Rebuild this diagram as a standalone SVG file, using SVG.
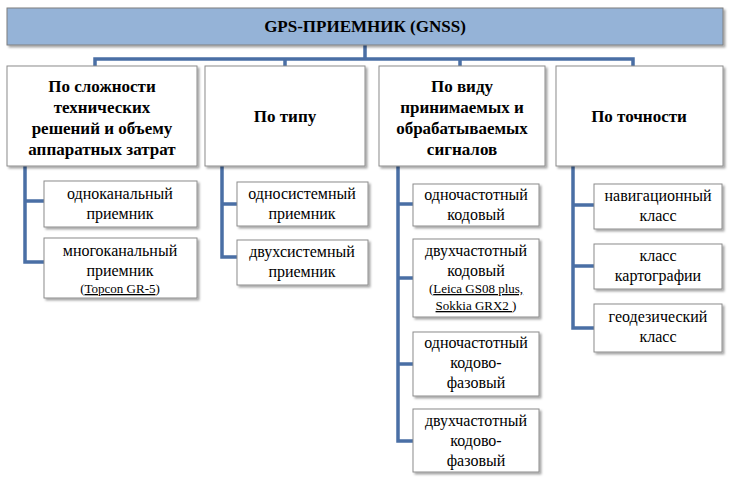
<svg xmlns="http://www.w3.org/2000/svg" width="733" height="480" viewBox="0 0 733 480">
<defs><filter id="sh" x="-10%" y="-10%" width="130%" height="130%"><feDropShadow dx="2" dy="2" stdDeviation="1" flood-color="#000" flood-opacity="0.35"/></filter></defs>
<style>
.b{fill:#fff;stroke:#8c8c8c;stroke-width:1;filter:url(#sh)}
.c{fill:none;stroke:#4a6fa5;stroke-width:3.5}
text{font-family:"Liberation Serif",serif;text-anchor:middle;fill:#000}
.h{font-weight:bold;font-size:17px}
.l{font-size:16px}
</style>
<rect width="733" height="480" fill="#fff"/>
<g id="connectors">
<path class="c" d="M365 45V59M95 66V59H633V66M285 59V66M460 59V66"/>
<path class="c" d="M25 166V262H44M25 201H44"/>
<path class="c" d="M222 166V257H237M222 204H237"/>
<path class="c" d="M398 166V441H413M398 204H413M398 278H413M398 364H413"/>
<path class="c" d="M573 166V328H594M573 205H594M573 266H594"/>
</g>
<g id="root"><rect x="7" y="8" width="716" height="37" fill="#95b3d7" stroke="#7f7f7f" filter="url(#sh)"/><text class="h" x="365" y="32">GPS-ПРИЕМНИК (GNSS)</text></g>
<g id="cat1"><rect class="b" x="7" y="66" width="190" height="100"/><text class="h"><tspan x="102" y="92">По сложности</tspan><tspan x="102" y="113">технических</tspan><tspan x="102" y="134">решений и объему</tspan><tspan x="102" y="155">аппаратных затрат</tspan></text></g>
<g id="cat2"><rect class="b" x="205" y="66" width="160" height="100"/><text class="h" x="285" y="122">По типу</text></g>
<g id="cat3"><rect class="b" x="379" y="66" width="166" height="100"/><text class="h"><tspan x="462" y="92">По виду</tspan><tspan x="462" y="113">принимаемых и</tspan><tspan x="462" y="134">обрабатываемых</tspan><tspan x="462" y="155">сигналов</tspan></text></g>
<g id="cat4"><rect class="b" x="556" y="66" width="167" height="100"/><text class="h" x="639" y="122">По точности</text></g>
<g id="l11"><rect class="b" x="44" y="181" width="153" height="46"/><text class="l"><tspan x="120" y="199">одноканальный</tspan><tspan x="120" y="219">приемник</tspan></text></g>
<g id="l12"><rect class="b" x="44" y="238" width="153" height="60"/><text class="l"><tspan x="120" y="256">многоканальный</tspan><tspan x="120" y="276">приемник</tspan></text><text x="120" y="293" font-size="13">(<tspan text-decoration="underline">Topcon GR-5</tspan>)</text></g>
<g id="l21"><rect class="b" x="237" y="182" width="131" height="44"/><text class="l"><tspan x="302" y="199">односистемный</tspan><tspan x="302" y="219">приемник</tspan></text></g>
<g id="l22"><rect class="b" x="237" y="240" width="131" height="45"/><text class="l"><tspan x="302" y="257">двухсистемный</tspan><tspan x="302" y="277">приемник</tspan></text></g>
<g id="l31"><rect class="b" x="413" y="184" width="126" height="42"/><text class="l"><tspan x="476" y="200">одночастотный</tspan><tspan x="476" y="220">кодовый</tspan></text></g>
<g id="l32"><rect class="b" x="413" y="239" width="126" height="78"/><text class="l"><tspan x="476" y="256">двухчастотный</tspan><tspan x="476" y="276">кодовый</tspan></text><text x="476" y="293" font-size="13">(<tspan text-decoration="underline">Leica  GS08 plus,</tspan></text><text x="476" y="310" font-size="13"><tspan text-decoration="underline">Sokkia GRX2 </tspan> )</text></g>
<g id="l33"><rect class="b" x="413" y="332" width="126" height="64"/><text class="l"><tspan x="476" y="348">одночастотный</tspan><tspan x="476" y="368">кодово-</tspan><tspan x="476" y="388">фазовый</tspan></text></g>
<g id="l34"><rect class="b" x="413" y="409" width="126" height="63"/><text class="l"><tspan x="476" y="426">двухчастотный</tspan><tspan x="476" y="446">кодово-</tspan><tspan x="476" y="466">фазовый</tspan></text></g>
<g id="l41"><rect class="b" x="594" y="184" width="128" height="45"/><text class="l"><tspan x="658" y="201">навигационный</tspan><tspan x="658" y="221">класс</tspan></text></g>
<g id="l42"><rect class="b" x="594" y="244" width="128" height="45"/><text class="l"><tspan x="658" y="261">класс</tspan><tspan x="658" y="281">картографии</tspan></text></g>
<g id="l43"><rect class="b" x="594" y="304" width="128" height="48"/><text class="l"><tspan x="658" y="322">геодезический</tspan><tspan x="658" y="342">класс</tspan></text></g>
</svg>
